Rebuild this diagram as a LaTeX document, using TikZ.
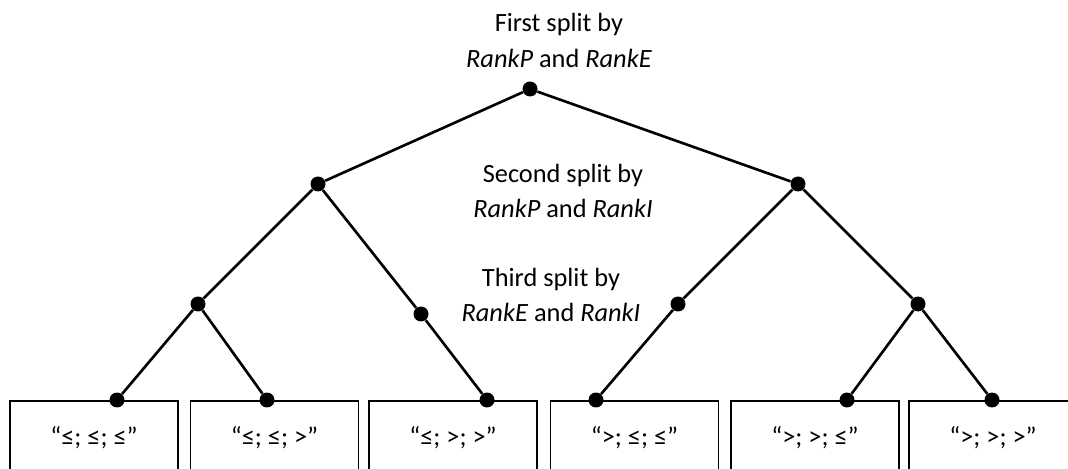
\documentclass[tikz,border=0pt]{standalone}
\usepackage{fontspec}
\setmainfont{Carlito}
\usepackage{tikz}

\tikzset{
	dot/.style={circle,fill=black,inner sep=0pt,minimum size=0.3cm},
	edge/.style={line width=1.5pt},
	leafbox/.style={draw,line width=1.1pt,rectangle,anchor=north,minimum width=3.36cm,
		inner ysep=0.54cm,text height=0.36cm,text depth=0.12cm},
	splitlabel/.style={align=center,inner sep=0pt,anchor=base,font=\fontsize{15}{20.4}\selectfont}
}

\begin{document}
\begin{tikzpicture}[x=0.02cm,y=-0.02cm,font=\fontsize{15}{18}\selectfont]
		\useasboundingbox (0,0) rectangle (1068,469);
		\clip (0,0) rectangle (1068,469);

		% boxes at the bottom
		\node[leafbox]	(b111)	at (94,400)		{“≤; ≤; ≤”};
		\node[leafbox]	(b112)	at (274.5,400)	{“≤; ≤; >”};
		\node[leafbox]	(b121)	at (453,400)	{“≤; >; >”};
		\node[leafbox]	(b211)	at (634.5,400)	{“>; ≤; ≤”};
		\node[leafbox]	(b221)	at (815,400)	{“>; >; ≤”};
		\node[leafbox]	(b222)	at (993,400)	{“>; >; >”};

		% split points
		\node[dot]		(0)		at (530,89)		{};
		\node[dot]		(1)		at (318,184)	{};
		\node[dot]		(2)		at (798,184)	{};
		\node[dot]		(11)	at (198,304)	{};
		\node[dot]		(12)	at (421,314)	{};
		\node[dot]		(21)	at (678,304)	{};
		\node[dot]		(22)	at (918,304)	{};
		\node[dot]		(111)	at (117,400)	{};
		\node[dot]		(112)	at (267,400)	{};
		\node[dot]		(121)	at (487,400)	{};
		\node[dot]		(211)	at (596,400)	{};
		\node[dot]		(221)	at (847,400)	{};
		\node[dot]		(222)	at (992,400)	{};

		\draw[edge]	(0)		--	(1);
		\draw[edge]	(0)		--	(2);
		\draw[edge]	(1)		--	(11);
		\draw[edge]	(1)		--	(12);
		\draw[edge]	(2)		--	(21);
		\draw[edge]	(2)		--	(22);
		\draw[edge]	(11)	--	(111);
		\draw[edge]	(11)	--	(112);
		\draw[edge]	(12)	--	(121);
		\draw[edge]	(21)	--	(211);
		\draw[edge]	(22)	--	(221);
		\draw[edge]	(22)	--	(222);

		% split labels
		\node[splitlabel]	(first)		at (559,67.7)	{First split by\\\textit{RankP} and \textit{RankE}};
		\node[splitlabel]	(second)	at (563,218)	{Second split by\\\textit{RankP} and \textit{RankI}};
		\node[splitlabel]	(third)		at (551,322)	{Third split by\\\textit{RankE} and \textit{RankI}};
	\end{tikzpicture}
\end{document}
